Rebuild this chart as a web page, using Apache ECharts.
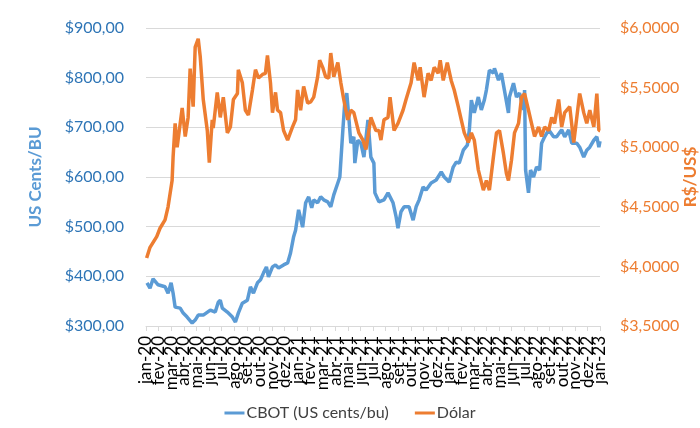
<!DOCTYPE html>
<html>
<head>
<meta charset="utf-8">
<script src="https://cdn.jsdelivr.net/npm/echarts@6/dist/echarts.min.js"></script>
<style>
  html, body { margin: 0; padding: 0; background: #fff; }
  #chart { width: 700px; height: 428px; }
</style>
</head>
<body>
<div id="chart"></div>
<script>
// rótulos mensais do eixo x (jan-20 .. jan-23)
const months = ['jan-20','fev-20','mar-20','abr-20','mai-20','jun-20','jul-20','ago-20','set-20','out-20','nov-20','dez-20',
  'jan-21','fev-21','mar-21','abr-21','mai-21','jun-21','jul-21','ago-21','set-21','out-21','nov-21','dez-21',
  'jan-22','fev-22','mar-22','abr-22','mai-22','jun-22','jul-22','ago-22','set-22','out-22','nov-22','dez-22','jan-23'];

// CBOT (US cents/bu) - posição em meses desde jan-20 e valor
const cbotT = [0.08,0.32,0.56,0.96,1.51,1.75,1.99,2.15,2.31,2.71,2.95,3.26,3.66,3.90,4.14,4.54,5.10,5.49,5.73,5.89,
  6.05,6.45,6.85,7.09,7.32,7.64,8.04,8.28,8.52,8.84,9.08,9.32,9.55,9.71,10.03,10.27,10.51,10.91,11.23,11.46,
  11.70,11.86,12.10,12.42,12.66,12.90,13.14,13.30,13.61,13.85,14.09,14.41,14.65,14.89,15.21,15.37,15.61,15.76,15.92,16.08,
  16.24,16.48,16.56,16.80,17.04,17.28,17.60,17.83,18.07,18.15,18.47,18.87,19.19,19.59,19.83,19.98,20.22,20.46,20.86,21.18,
  21.42,21.66,21.97,22.21,22.61,23.01,23.41,23.65,24.04,24.36,24.60,24.84,25.16,25.48,25.64,25.80,26.03,26.35,26.59,26.83,
  26.99,27.23,27.55,27.63,27.95,28.18,28.42,28.74,28.82,29.14,29.38,29.62,29.94,30.02,30.10,30.33,30.49,30.73,30.97,31.21,
  31.37,31.61,31.93,32.32,32.56,32.96,33.20,33.52,33.76,34.16,34.39,34.71,34.95,35.19,35.51,35.75,35.91,36.0];
const cbotV = [387,376,395,383,379,366,387,366,338,336,326,318,306,312,322,322,332,328,348,352,
  336,328,318,308,326,346,352,379,366,387,393,407,419,399,419,423,417,423,427,447,
  479,493,534,499,548,560,538,554,548,560,554,550,540,564,588,600,695,749,769,721,
  668,681,628,674,668,640,715,640,628,568,550,554,568,548,520,497,530,540,540,513,
  540,554,580,574,588,594,610,600,590,620,630,628,654,664,695,755,729,761,735,755,
  775,815,809,819,795,809,775,729,761,789,761,769,735,775,614,568,614,600,620,614,
  668,681,695,681,681,695,681,695,668,668,660,640,654,660,674,681,660,672];

// Dólar (R$/US$)
const usdT = [0.05,0.32,0.85,1.11,1.51,1.75,2.07,2.15,2.31,2.47,2.87,3.11,3.34,3.50,3.74,3.90,4.14,4.30,4.54,4.86,
  5.02,5.25,5.33,5.65,5.89,6.13,6.45,6.69,6.93,7.25,7.32,7.64,7.88,8.12,8.44,8.68,8.92,9.24,9.47,9.63,
  9.87,10.03,10.27,10.43,10.67,10.91,11.23,11.62,11.86,12.02,12.26,12.50,12.82,13.06,13.30,13.61,13.77,14.01,14.25,14.49,
  14.65,14.89,15.21,15.45,15.68,16.00,16.24,16.48,16.88,17.20,17.44,17.83,18.23,18.47,18.63,18.87,19.19,19.35,19.67,19.98,
  20.38,20.62,21.02,21.26,21.58,21.74,22.05,22.37,22.61,22.85,23.17,23.33,23.57,23.89,24.20,24.44,24.76,25.00,25.24,25.56,
  25.80,26.03,26.35,26.75,26.99,27.23,27.55,27.79,28.03,28.34,28.58,28.74,28.98,29.22,29.54,29.78,30.02,30.33,30.57,30.81,
  31.13,31.37,31.61,31.93,32.17,32.40,32.72,32.96,33.20,33.60,33.92,34.16,34.39,34.71,34.95,35.19,35.51,35.75,35.91,36.0];
const usdV = [4.07,4.16,4.25,4.32,4.39,4.50,4.72,4.92,5.20,5.00,5.33,5.09,5.25,5.66,5.34,5.84,5.91,5.76,5.40,5.14,
  4.87,5.23,5.16,5.46,5.25,5.42,5.12,5.17,5.40,5.45,5.65,5.54,5.31,5.27,5.48,5.65,5.58,5.61,5.62,5.77,
  5.54,5.29,5.46,5.31,5.29,5.14,5.06,5.17,5.23,5.48,5.31,5.51,5.37,5.38,5.42,5.59,5.73,5.67,5.59,5.58,
  5.79,5.59,5.71,5.54,5.40,5.23,5.31,5.29,5.12,5.06,4.98,5.25,5.14,5.14,5.06,5.23,5.25,5.42,5.14,5.20,
  5.31,5.40,5.54,5.71,5.56,5.67,5.42,5.62,5.56,5.67,5.62,5.73,5.56,5.71,5.56,5.48,5.34,5.23,5.12,5.04,
  5.12,5.06,4.81,4.64,4.72,4.64,4.92,5.12,5.14,4.95,4.78,4.72,4.89,5.12,5.20,5.42,5.45,5.31,5.20,5.09,
  5.17,5.09,5.17,5.14,5.25,5.20,5.40,5.17,5.29,5.34,5.04,5.25,5.45,5.29,5.20,5.31,5.17,5.45,5.14,5.14];

const BLUE = '#5B9BD5';
const ORANGE = '#ED7D31';
const FONT = 'Lato';

const chart = echarts.init(document.getElementById('chart'));
chart.setOption({
  animation: false,
  textStyle: { fontFamily: FONT },
  grid: { left: 146, right: 100, top: 28, bottom: 102, outerBoundsMode: 'none' },
  legend: {
    bottom: 2,
    left: 'center',
    itemWidth: 20,
    itemHeight: 3,
    itemGap: 26,
    icon: 'rect',
    textStyle: { fontSize: 16, color: '#404040', fontFamily: FONT, padding: [0, 0, 0, -3] },
    data: ['CBOT (US cents/bu)', 'Dólar']
  },
  xAxis: [
    // eixo de rótulos mensais (categoria, todos os meses visíveis)
    {
      type: 'category',
      position: 'bottom',
      data: months,
      boundaryGap: false,
      splitLine: { show: false },
      axisLine: { lineStyle: { color: '#D9D9D9' } },
      axisTick: { show: true, interval: 0, length: 5, lineStyle: { color: '#D9D9D9' } },
      axisLabel: {
        interval: 0,
        rotate: 90,
        fontSize: 17,
        color: '#000',
        margin: 10
      }
    },
    // eixo numérico (meses desde jan-20) usado pelas séries
    {
      type: 'value',
      position: 'bottom',
      min: 0,
      max: 36,
      show: false
    }
  ],
  yAxis: [
    {
      type: 'value',
      min: 300,
      max: 900,
      interval: 100,
      name: 'US Cents/BU',
      nameLocation: 'middle',
      nameRotate: 90,
      nameGap: 102,
      nameMoveOverlap: false,
      nameTextStyle: { color: BLUE, fontWeight: 'bold', fontSize: 17, fontFamily: FONT },
      axisLine: { show: false },
      axisTick: { show: false },
      splitLine: { lineStyle: { color: '#D9D9D9' } },
      axisLabel: {
        color: '#2E75B6',
        fontSize: 16,
        margin: 22,
        formatter: v => '$' + v.toFixed(2).replace('.', ',')
      }
    },
    {
      type: 'value',
      min: 3.5,
      max: 6,
      interval: 0.5,
      name: 'R$/US$',
      nameLocation: 'middle',
      nameRotate: 90,
      nameGap: 82,
      nameMoveOverlap: false,
      nameTextStyle: { color: ORANGE, fontWeight: 'bold', fontSize: 17, fontFamily: FONT },
      axisLine: { show: false },
      axisTick: { show: false },
      splitLine: { show: false },
      axisLabel: {
        color: ORANGE,
        fontSize: 16,
        margin: 20,
        formatter: v => '$' + v.toFixed(4).replace('.', ',')
      }
    }
  ],
  series: [
    {
      name: 'CBOT (US cents/bu)',
      type: 'line',
      xAxisIndex: 1,
      yAxisIndex: 0,
      showSymbol: false,
      symbol: 'none',
      color: BLUE,
      lineStyle: { width: 3.5, color: BLUE },
      data: cbotT.map((t, i) => [t, cbotV[i]])
    },
    {
      name: 'Dólar',
      type: 'line',
      xAxisIndex: 1,
      yAxisIndex: 1,
      showSymbol: false,
      symbol: 'none',
      color: ORANGE,
      lineStyle: { width: 3.5, color: ORANGE },
      data: usdT.map((t, i) => [t, usdV[i]])
    }
  ]
});
</script>
</body>
</html>
